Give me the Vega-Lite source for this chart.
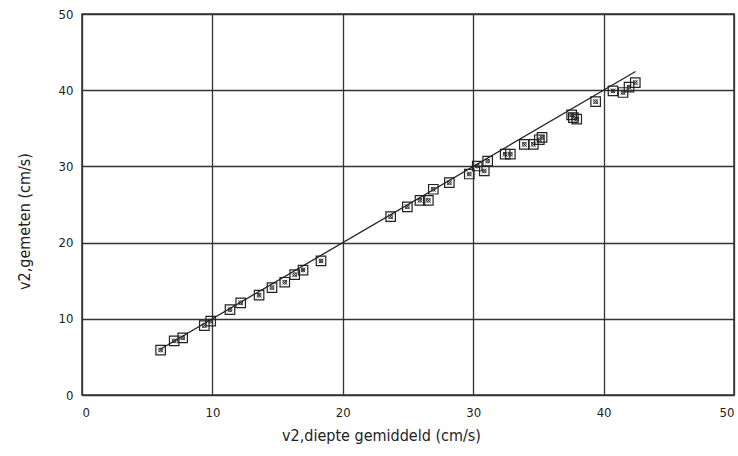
{
  "$schema": "https://vega.github.io/schema/vega-lite/v6.json",
  "autosize": "none",
  "width": 652,
  "height": 381,
  "padding": {"left": 82, "top": 14, "right": 4, "bottom": 61},
  "background": "white",
  "config": {
    "view": {"stroke": "#333", "strokeWidth": 1.5},
    "font": "DejaVu Sans Condensed",
    "axis": {
      "grid": true, "gridColor": "#333", "gridOpacity": 1, "gridWidth": 1.3,
      "domain": false, "ticks": false,
      "labelFont": "DejaVu Sans Condensed",
      "titleFont": "DejaVu Sans Condensed",
      "labelFontSize": 13, "labelColor": "#222",
      "titleFontSize": 16, "titleFontWeight": "normal", "titleColor": "#222"
    }
  },
  "datasets": {
    "pts": [
      {"x": 6.03, "y": 5.9}, {"x": 7.07, "y": 7.1}, {"x": 7.72, "y": 7.5},
      {"x": 9.38, "y": 9.1}, {"x": 9.87, "y": 9.7}, {"x": 11.35, "y": 11.2},
      {"x": 12.17, "y": 12.1}, {"x": 13.58, "y": 13.1}, {"x": 14.57, "y": 14.1},
      {"x": 15.55, "y": 14.8}, {"x": 16.31, "y": 15.8}, {"x": 16.95, "y": 16.4},
      {"x": 18.33, "y": 17.6}, {"x": 23.67, "y": 23.4}, {"x": 24.95, "y": 24.7},
      {"x": 25.92, "y": 25.55}, {"x": 26.56, "y": 25.55}, {"x": 26.94, "y": 27.0},
      {"x": 28.17, "y": 27.86}, {"x": 29.7, "y": 29.0}, {"x": 30.31, "y": 30.05},
      {"x": 30.85, "y": 29.4}, {"x": 31.11, "y": 30.7}, {"x": 32.45, "y": 31.6},
      {"x": 32.85, "y": 31.6}, {"x": 33.92, "y": 32.9}, {"x": 34.61, "y": 32.9},
      {"x": 35.07, "y": 33.5}, {"x": 35.28, "y": 33.8}, {"x": 37.55, "y": 36.75},
      {"x": 37.68, "y": 36.4}, {"x": 37.94, "y": 36.2}, {"x": 39.39, "y": 38.5},
      {"x": 40.72, "y": 39.9}, {"x": 41.49, "y": 39.7}, {"x": 41.95, "y": 40.4},
      {"x": 42.43, "y": 41.0}
    ],
    "line": [{"x": 6.0, "y": 6.0}, {"x": 42.45, "y": 42.45}]
  },
  "layer": [
    {
      "data": {"name": "line"},
      "mark": {"type": "line", "color": "#222", "strokeWidth": 1.3},
      "encoding": {
        "x": {"field": "x", "type": "quantitative", "scale": {"domain": [0, 50]},
              "axis": {"values": [0, 10, 20, 30, 40, 50], "title": "v2,diepte gemiddeld (cm/s)", "labelPadding": 11, "titlePadding": 8, "titleX": 299}},
        "y": {"field": "y", "type": "quantitative", "scale": {"domain": [0, 50]},
              "axis": {"values": [0, 10, 20, 30, 40, 50], "title": "v2,gemeten (cm/s)", "labelPadding": 9, "titlePadding": 26, "titleY": 207}}
      }
    },
    {
      "data": {"name": "pts"},
      "mark": {"type": "point", "shape": "square", "size": 90, "filled": false, "color": "#222", "strokeWidth": 1.2, "opacity": 1},
      "encoding": {
        "x": {"field": "x", "type": "quantitative"},
        "y": {"field": "y", "type": "quantitative"}
      }
    },
    {
      "data": {"name": "pts"},
      "mark": {"type": "point", "shape": "M-0.5,-0.5L0.5,0.5M-0.5,0.5L0.5,-0.5", "size": 90, "filled": false, "color": "#222", "strokeWidth": 0.9, "opacity": 1},
      "encoding": {
        "x": {"field": "x", "type": "quantitative"},
        "y": {"field": "y", "type": "quantitative"}
      }
    },
    {
      "data": {"name": "pts"},
      "mark": {"type": "point", "shape": "circle", "size": 14, "filled": false, "color": "#222", "strokeWidth": 0.9, "opacity": 1},
      "encoding": {
        "x": {"field": "x", "type": "quantitative"},
        "y": {"field": "y", "type": "quantitative"}
      }
    }
  ]
}
